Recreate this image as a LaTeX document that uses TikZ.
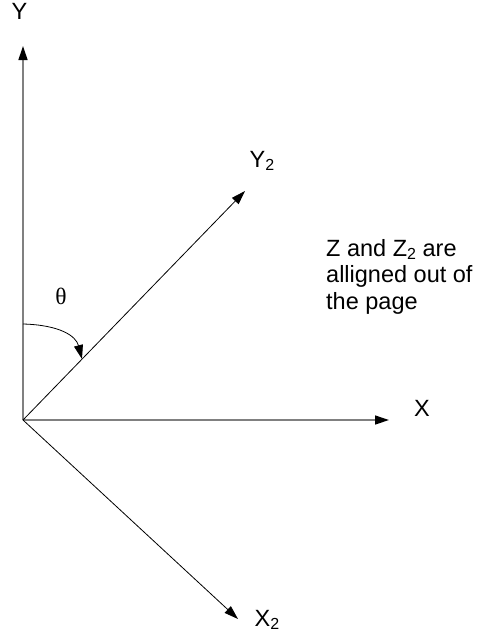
\documentclass[tikz,border=0pt]{standalone}
\usepackage{fontspec}
\setmainfont{Liberation Sans}
\newfontfamily\greekfont{Liberation Serif}
\usetikzlibrary{arrows.meta,positioning}
\newcommand\subtwo{\raisebox{-0.3ex}{\fontsize{16}{16}\selectfont 2}}

\begin{document}
\begin{tikzpicture}[x=1pt,y=-1pt,
   axis/.style={draw=gray,line width=1.3pt,-{Triangle[length=14pt,width=9pt,black]}},
   frame/.style={draw=black,line width=0.8pt,-{Triangle[length=14pt,width=9pt]}},
   lbl/.style={font=\fontsize{23.5}{26.5}\selectfont,inner sep=0pt}]
  \useasboundingbox (0,0) rectangle (478,637);
  % origin and arrow ends
  \coordinate (o) at (23,420);
  \coordinate (ytip) at (23,46);
  \coordinate (xtip) at (389,420);
  \coordinate (y2tip) at (245,191);
  \coordinate (x2tip) at (238,619);
  \coordinate (arcstart) at (23,324);
  \coordinate (arcend) at (82,359);
  % labels
  \node[lbl] (ylab) at (19.5,11) {Y};
  \node[lbl] (xlab) at (422,408) {X};
  \node[lbl,anchor=west] (y2lab) at (249.5,161) {Y\subtwo};
  \node[lbl,anchor=west] (x2lab) at (254.5,620) {X\subtwo};
  \node[lbl] (theta) at (61,296) {\greekfont θ};
  \node[lbl,anchor=north west,align=left] (note) at (326,239)
    {Z and Z\subtwo{} are\\alligned out of\\the page};
  % axes
  \draw[axis] (o) -- (ytip);
  \draw[axis] (o) -- (xtip);
  \draw[frame] (o) -- (y2tip);
  \draw[frame] (o) -- (x2tip);
  \draw[frame] (arcstart) .. controls (60,325) and (76,336) .. (arcend);
\end{tikzpicture}
\end{document}
